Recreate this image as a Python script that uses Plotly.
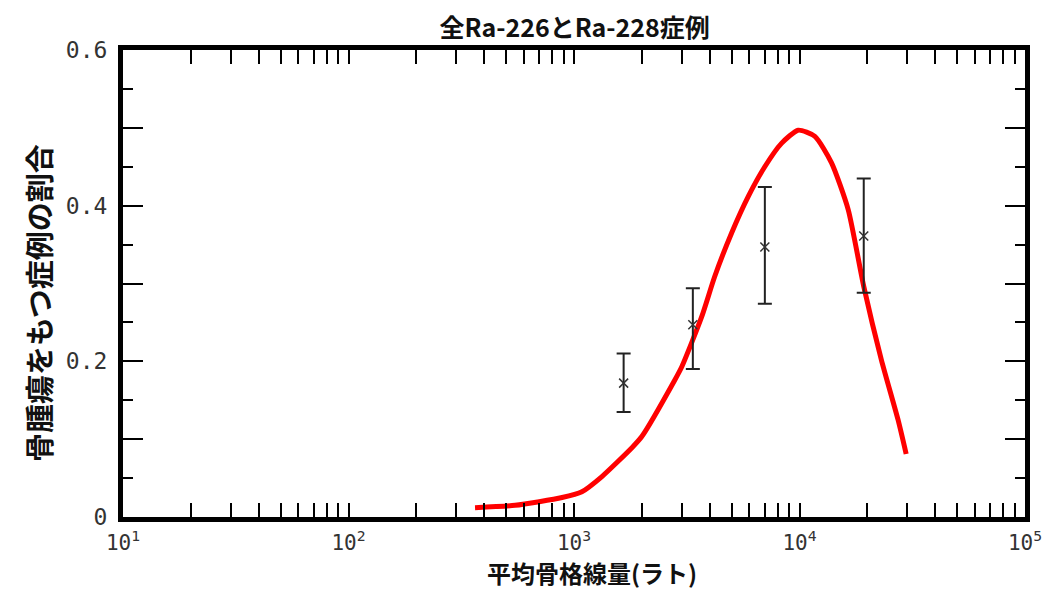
import plotly.graph_objects as go

# ---- data ----
curve_dose = [364, 548, 885, 1084, 1330, 1807, 1995, 2800, 3006, 3681, 4207, 5000,
              5929, 7015, 8318, 9863, 11700, 13870, 16440, 19280, 23070, 27350, 29720]
curve_frac = [0.012, 0.015, 0.025, 0.0325, 0.052, 0.089, 0.103, 0.176, 0.193, 0.257,
              0.309, 0.365, 0.412, 0.450, 0.480, 0.497, 0.489, 0.455, 0.395, 0.296,
              0.202, 0.125, 0.081]

obs_dose = [1660, 3365, 7020, 19270]
obs_frac = [0.172, 0.247, 0.347, 0.361]
err_plus = [0.038, 0.047, 0.077, 0.074]
err_minus = [0.037, 0.057, 0.073, 0.073]

x_tickvals = [10, 100, 1000, 10000, 100000]
x_ticktext = ["10<sup>1</sup>", "10<sup>2</sup>", "10<sup>3</sup>", "10<sup>4</sup>", "10<sup>5</sup>"]
y_tickvals = [0, 0.2, 0.4, 0.6]
y_ticktext = ["0", "0.2", "0.4", "0.6"]
y_mid_ticks = [0.1, 0.3, 0.5]

title_text = "全Ra-226とRa-228症例"
x_title = "平均骨格線量(ラト)"
y_title = "骨腫瘍をもつ症例の割合"

W, H = 1045, 591

fig = go.Figure()
fig.add_trace(go.Scatter(
    x=curve_dose, y=curve_frac, mode="lines",
    line=dict(color="#ff0000", width=5, shape="spline", smoothing=0.6),
    showlegend=False, hoverinfo="skip"))
fig.add_trace(go.Scatter(
    x=obs_dose, y=obs_frac, mode="markers",
    marker=dict(symbol="x-thin-open", size=9, color="#333333",
                line=dict(color="#333333", width=1.5)),
    error_y=dict(type="data", array=err_plus, arrayminus=err_minus,
                 symmetric=False, color="#222222", thickness=2, width=7),
    showlegend=False))
# invisible helper trace so the overlaid tick-only axis is drawn
fig.add_trace(go.Scatter(
    x=curve_dose[:1], y=curve_frac[:1], yaxis="y2", mode="markers",
    marker=dict(opacity=0), showlegend=False, hoverinfo="skip"))

mono = "DejaVu Sans Mono, Liberation Mono, monospace"
cjk = "Noto Sans CJK JP, sans-serif"

fig.update_layout(
    width=W, height=H,
    margin=dict(l=123, r=20, t=50, b=74, autoexpand=False),
    paper_bgcolor="white", plot_bgcolor="white",
    title=dict(text="<b>" + title_text + "</b>", x=0.55, xanchor="center",
               y=1 - 28 / H, yanchor="middle",
               font=dict(family=cjk, size=25, color="#111111")),
    xaxis=dict(
        type="log", range=[1, 5], automargin=False,
        showline=True, linecolor="black", linewidth=5, mirror="allticks",
        showgrid=False, zeroline=False,
        ticks="inside", ticklen=14, tickwidth=2, tickcolor="black",
        tickvals=x_tickvals, ticktext=x_ticktext,
        tickfont=dict(family=mono, size=21, color="#333333"),
        ticklabelstandoff=3,
        minor=dict(dtick="D1", ticks="inside", ticklen=7, tickwidth=2,
                   tickcolor="black", showgrid=False),
    ),
    yaxis=dict(
        range=[0, 0.6], automargin=False,
        showline=True, linecolor="black", linewidth=5, mirror="allticks",
        showgrid=False, zeroline=False,
        ticks="inside", ticklen=20, tickwidth=2, tickcolor="black",
        tickvals=y_tickvals, ticktext=y_ticktext,
        tickfont=dict(family=mono, size=23, color="#333333"),
        ticklabelstandoff=6,
        minor=dict(dtick=0.05, ticks="inside", ticklen=10, tickwidth=2,
                   tickcolor="black", showgrid=False),
    ),
    yaxis2=dict(
        range=[0, 0.6], overlaying="y", side="left", anchor="x",
        automargin=False, showline=False, mirror="allticks",
        showgrid=False, zeroline=False, showticklabels=False,
        ticks="inside", ticklen=20, tickwidth=2, tickcolor="black",
        tickvals=y_mid_ticks,
    ),
    annotations=[
        dict(text="<b>" + x_title + "</b>", xref="paper", yref="paper",
             x=(592 - 123) / (W - 143), y=-(591 - 517) / (517 - 50),
             xanchor="center", yanchor="bottom", showarrow=False, borderpad=0,
             font=dict(family=cjk, size=24, color="#111111")),
        dict(text="<b>" + y_title + "</b>", xref="paper", yref="paper",
             x=-(123 - 38) / (W - 143), y=(517 - 303) / (517 - 50),
             xanchor="center", yanchor="middle", showarrow=False, textangle=-90,
             font=dict(family=cjk, size=29, color="#111111")),
    ],
)

fig.write_html("out.html")
